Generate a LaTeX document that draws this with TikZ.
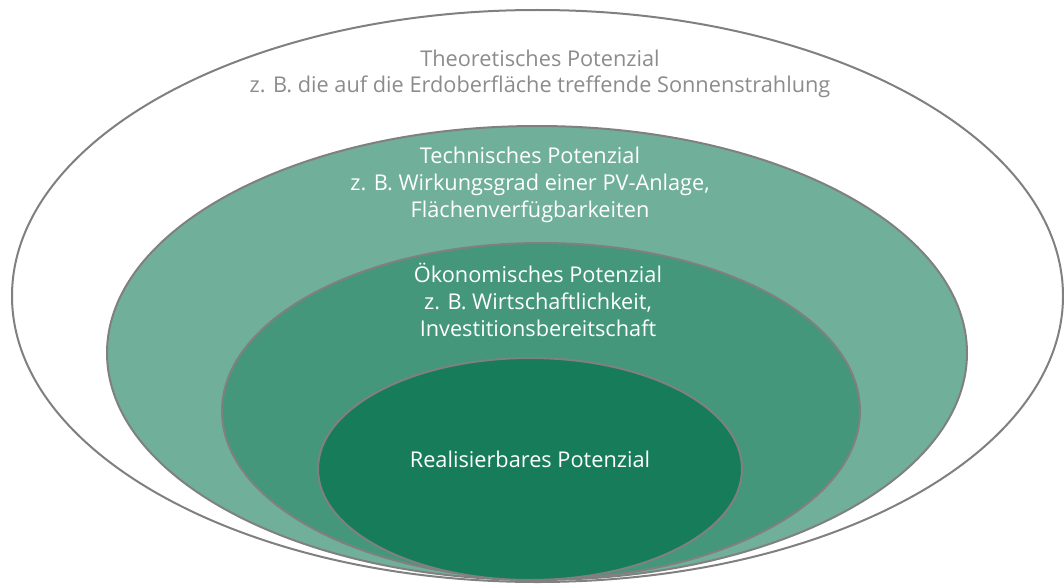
\documentclass[tikz,border=0pt]{standalone}
\usepackage{fontspec}
\setmainfont{Open Sans}
\usepackage{xcolor}
\definecolor{rimgrey}{HTML}{808080}
\definecolor{txtgrey}{HTML}{8C8C8C}
\definecolor{techgreen}{HTML}{70B09A}
\definecolor{oekogreen}{HTML}{44977A}
\definecolor{realgreen}{HTML}{167C5A}
\begin{document}
\begin{tikzpicture}[x=0.75pt,y=-0.75pt]
\tikzstyle{every node}=[align=center,font=\fontsize{16.3}{20}\selectfont]
\tikzstyle{rim}=[draw=rimgrey,line width=1.5pt]
\useasboundingbox (0,0) rectangle (1064,585);
% nested potentials, outermost first
\path[rim,fill=white] (537.5,296) ellipse [x radius=525.5,y radius=286];
\path[rim,fill=techgreen] (537,353) ellipse [x radius=430,y radius=227];
\path[rim,fill=oekogreen] (541,411) ellipse [x radius=319,y radius=168];
\path[rim,fill=realgreen] (530,469) ellipse [x radius=212,y radius=111];
% labels
\node[text=txtgrey] (theo) at (540,74) {Theoretisches Potenzial\\z. B. die auf die Erdoberfläche treffende Sonnenstrahlung};
\node[text=white] (tech) at (530,185) {Technisches Potenzial\\z. B. Wirkungsgrad einer PV-Anlage,\\Flächenverfügbarkeiten};
\node[text=white] (oeko) at (538,300) {Ökonomisches Potenzial\\z. B. Wirtschaftlichkeit,\\Investitionsbereitschaft};
\node[text=white] (real) at (530,459) {Realisierbares Potenzial};
\end{tikzpicture}
\end{document}
